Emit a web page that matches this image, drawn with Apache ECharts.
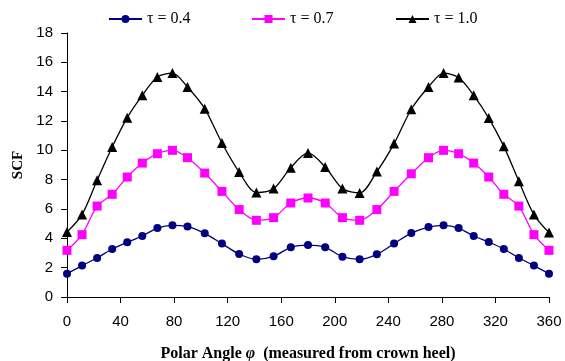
<!DOCTYPE html>
<html><head><meta charset="utf-8">
<script src="https://cdn.jsdelivr.net/npm/echarts@6/dist/echarts.min.js"></script>
<style>html,body{margin:0;padding:0;background:#fff}#c{width:565px;height:361px}</style>
</head><body><div id="c"></div>
<script>
const angles = [0, 11.25, 22.5, 33.75, 45, 56.25, 67.5, 78.75, 90,
  102.86, 115.71, 128.57, 141.43, 154.29, 167.14, 180,
  192.86, 205.71, 218.57, 231.43, 244.29, 257.14, 270,
  281.25, 292.5, 303.75, 315, 326.25, 337.5, 348.75, 360];
const scf04 = [1.59, 2.14, 2.66, 3.27, 3.73, 4.16, 4.70, 4.89, 4.80,
  4.34, 3.64, 2.93, 2.57, 2.77, 3.39, 3.54,
  3.39, 2.75, 2.57, 2.91, 3.64, 4.36, 4.77,
  4.89, 4.70, 4.16, 3.75, 3.27, 2.66, 2.14, 1.59];
const scf07 = [3.18, 4.25, 6.20, 7.00, 8.18, 9.13, 9.77, 10.0, 9.50,
  8.45, 7.20, 5.96, 5.23, 5.41, 6.41, 6.75,
  6.41, 5.41, 5.23, 5.96, 7.20, 8.40, 9.50,
  10.0, 9.77, 9.13, 8.18, 7.00, 6.20, 4.25, 3.18];
const scf10 = [4.43, 5.62, 7.96, 10.23, 12.23, 13.75, 15.0, 15.27, 14.32,
  12.84, 10.50, 8.52, 7.12, 7.39, 8.82, 9.82,
  8.86, 7.39, 7.09, 8.55, 10.46, 12.80, 14.32,
  15.27, 14.96, 13.75, 12.20, 10.27, 7.89, 5.62, 4.39];
const seriesNames = ['τ = 0.4', 'τ = 0.7', 'τ = 1.0'];
const xTitle = 'Polar Angle {i|φ}  (measured from crown heel)';
const yTitle = 'SCF';

const pair = v => angles.map((a, i) => [a, v[i]]);
const chart = echarts.init(document.getElementById('c'));
const legendText = {fontFamily: 'Liberation Serif', fontSize: 16, color: '#000'};
const mkLegend = (name, left) => ({
  data: [name], left: left, top: 6, itemWidth: 33, itemHeight: 10, itemGap: 5,
  textStyle: legendText
});
const titleFont = {fontFamily: 'Liberation Serif', fontWeight: 'bold', fontSize: 16, color: '#000'};
chart.setOption({
  animation: false,
  legend: [mkLegend(seriesNames[0], 103), mkLegend(seriesNames[1], 246), mkLegend(seriesNames[2], 390)],
  grid: {left: 67, right: 16, top: 33, bottom: 64, containLabel: false, outerBoundsMode: 'none'},
  xAxis: {
    type: 'value', min: 0, max: 360, interval: 40,
    name: xTitle, nameLocation: 'middle', nameGap: 49,
    nameTextStyle: Object.assign({}, titleFont, {rich: {i: Object.assign({}, titleFont, {fontStyle: 'italic'})}}),
    axisLine: {lineStyle: {color: '#000', width: 1}},
    axisTick: {show: true, inside: false, length: 6, lineStyle: {color: '#000'}},
    axisLabel: {fontFamily: 'Liberation Sans', fontSize: 15, color: '#000', margin: 17},
    splitLine: {show: false}
  },
  yAxis: {
    type: 'value', min: 0, max: 18, interval: 2,
    name: yTitle, nameLocation: 'middle', nameGap: 35,
    nameTextStyle: Object.assign({}, titleFont, {fontSize: 15}),
    axisLine: {show: true, lineStyle: {color: '#000', width: 1}},
    axisTick: {show: true, inside: false, length: 6, lineStyle: {color: '#000'}},
    axisLabel: {fontFamily: 'Liberation Sans', fontSize: 15, color: '#000', margin: 14},
    splitLine: {show: false}
  },
  series: [
    {name: seriesNames[0], type: 'line', data: pair(scf04), smooth: 0.3,
     symbol: 'circle', symbolSize: 8, color: '#000080',
     lineStyle: {width: 1.3, color: '#000080'}, itemStyle: {color: '#000080'}},
    {name: seriesNames[1], type: 'line', data: pair(scf07), smooth: 0.3,
     symbol: 'rect', symbolSize: 9, color: '#FF00FF',
     lineStyle: {width: 1.3, color: '#FF00FF'}, itemStyle: {color: '#FF00FF'}},
    {name: seriesNames[2], type: 'line', data: pair(scf10), smooth: 0.3,
     symbol: 'triangle', symbolSize: 10, color: '#000',
     lineStyle: {width: 1.3, color: '#000'}, itemStyle: {color: '#000'}}
  ]
});
</script></body></html>
